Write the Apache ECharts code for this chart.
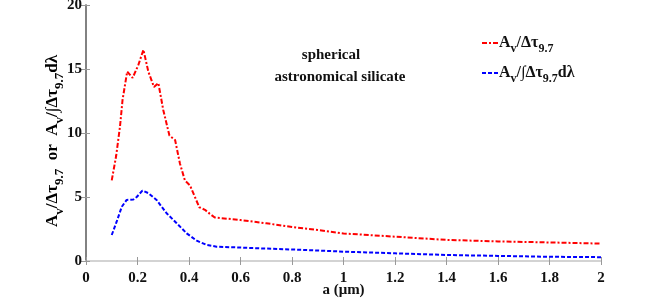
<!DOCTYPE html>
<html><head><meta charset="utf-8">
<script src="https://cdn.jsdelivr.net/npm/echarts@6/dist/echarts.min.js"></script>
<style>html,body{margin:0;padding:0;background:#fff}#c{width:664px;height:298px}</style>
</head><body><div id="c"></div>
<script>
const aRed = [0.1,0.117,0.132,0.142,0.16,0.181,0.203,0.223,0.242,0.264,0.281,0.3,0.324,0.346,0.365,0.384,0.404,0.423,0.44,0.462,0.48,0.5,0.6,0.7,0.8,0.9,1.0,1.2,1.4,1.6,1.8,2.0];
const vRed = [6.3,8.2,10.5,12.6,14.8,14.3,15.3,16.5,14.8,13.6,13.9,11.8,9.8,9.45,7.6,6.3,5.9,5.0,4.2,4.0,3.7,3.4,3.2,2.95,2.66,2.42,2.15,1.9,1.65,1.53,1.45,1.36];
const aBlue = [0.1,0.119,0.139,0.158,0.184,0.197,0.219,0.242,0.274,0.313,0.352,0.391,0.43,0.469,0.507,0.6,0.7,0.8,0.9,1.0,1.2,1.4,1.6,1.8,2.0];
const vBlue = [2.03,3.07,4.24,4.77,4.8,5.0,5.5,5.3,4.77,3.73,2.95,2.16,1.59,1.25,1.12,1.05,0.97,0.9,0.82,0.73,0.6,0.47,0.4,0.33,0.3];
const xTicks = {min:0, max:2, interval:0.2};
const yTicks = {min:0, max:20, interval:5};
const xName = 'a (μm)';
const yName = '{m|A}{s|v}{m|/Δτ}{s|9.7}{m|  or  A}{s|v}{m|/∫Δτ}{s|9.7}{m|dλ}';
const legendRed = '{m|A}{s|v}{m|/Δτ}{s|9.7}';
const legendBlue = '{m|A}{s|v}{m|/∫Δτ}{s|9.7}{m|dλ}';
const note1 = 'spherical', note2 = 'astronomical silicate';

const FONT = '"Liberation Serif","Times New Roman",serif';
const mkRich = (big, small, lh) => ({
  m:{fontFamily:FONT,fontWeight:'bold',fontSize:big,color:'#111',verticalAlign:'middle',lineHeight:lh},
  s:{fontFamily:FONT,fontWeight:'bold',fontSize:small,color:'#111',verticalAlign:'bottom',lineHeight:lh}
});
const zip = (a,v)=>a.map((x,i)=>[x,v[i]]);
const chart = echarts.init(document.getElementById('c'));
chart.setOption({
  animation:false,
  grid:{left:86,right:63,top:5,bottom:37,outerBoundsMode:'none',containLabel:false},
  legend:{
    orient:'vertical', left:476, top:30, itemWidth:18, itemHeight:10, itemGap:10,
    data:['red','blue'],
    itemStyle:{opacity:0},
    formatter:n=> n==='red'?legendRed:legendBlue,
    textStyle:{rich:mkRich(16,12,24), padding:[0,0,0,-6]}
  },
  xAxis:[{
    type:'value', min:xTicks.min, max:xTicks.max, interval:xTicks.interval,
    name:xName, nameLocation:'middle', nameGap:29, nameMoveOverlap:false,
    nameTextStyle:{fontFamily:FONT,fontWeight:'bold',fontSize:15,color:'#111',verticalAlign:'middle'},
    axisLine:{lineStyle:{color:'#c8c8c8',width:1.5}},
    axisTick:{inside:true,length:4,lineStyle:{color:'#999'}},
    axisLabel:{fontFamily:FONT,fontWeight:'bold',fontSize:15,color:'#111',margin:10},
    splitLine:{show:false}
  },{
    type:'value', position:'top', min:xTicks.min, max:xTicks.max, interval:xTicks.interval,
    axisLine:{lineStyle:{color:'#d4d4d4',width:1.5}},
    axisTick:{inside:true,length:4,lineStyle:{color:'#999'}},
    axisLabel:{show:false}, splitLine:{show:false}
  }],
  yAxis:[{
    type:'value', min:yTicks.min, max:yTicks.max, interval:yTicks.interval,
    axisLine:{show:true,lineStyle:{color:'#888',width:1.5}},
    axisTick:{show:true,inside:true,length:4,lineStyle:{color:'#999'}},
    axisLabel:{fontFamily:FONT,fontWeight:'bold',fontSize:15,color:'#111',margin:4},
    splitLine:{show:false}
  },{
    type:'value', position:'right', min:yTicks.min, max:yTicks.max, interval:yTicks.interval,
    axisLine:{show:true,lineStyle:{color:'#777',width:1.5}},
    axisTick:{show:true,inside:true,length:5,lineStyle:{color:'#999'}},
    axisLabel:{show:false}, splitLine:{show:false}
  }],
  graphic:[
    {type:'text', x:331, y:55, style:{text:note1, align:'center', verticalAlign:'middle', font:'bold 15px '+FONT, fill:'#111'}},
    {type:'text', x:340, y:77, style:{text:note2, align:'center', verticalAlign:'middle', font:'bold 15px '+FONT, fill:'#111'}},
    {type:'text', x:53, y:141, rotation:Math.PI/2, style:{text:yName, rich:mkRich(17,13,26), align:'center', verticalAlign:'middle'}}
  ],
  series:[
    {name:'red', type:'line', data:zip(aRed,vRed), symbol:'none', color:'#ff0000',
     lineStyle:{color:'#ff0000',width:2,type:[5,2,2,2]}},
    {name:'blue', type:'line', data:zip(aBlue,vBlue), symbol:'none', color:'#0000ff',
     lineStyle:{color:'#0000ff',width:2,type:[4,2]}}
  ]
});
</script></body></html>
